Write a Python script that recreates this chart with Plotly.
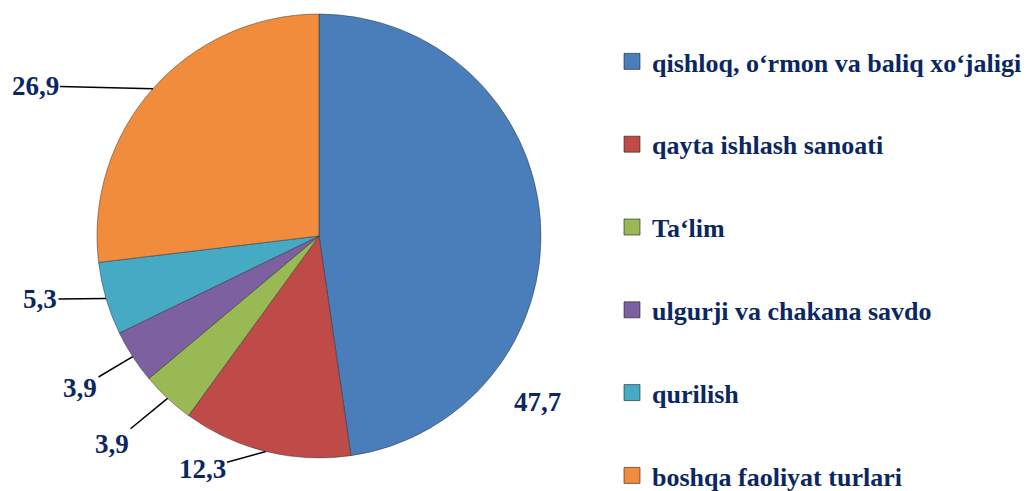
import math
import plotly.graph_objects as go

categories = ["qishloq, o‘rmon va baliq xo‘jaligi", "qayta ishlash sanoati", "Ta‘lim",
              "ulgurji va chakana savdo", "qurilish", "boshqa faoliyat turlari"]
values = [47.7, 12.3, 3.9, 3.9, 5.3, 26.9]
value_labels = ["47,7", "12,3", "3,9", "3,9", "5,3", "26,9"]
colors = ["#4A7EBB", "#BE4B48", "#98B954", "#7D60A0", "#46AAC5", "#F08C3C"]

W, H = 1035, 491
OFF = 8  # page body margin: figure origin sits at (8, 8) on screen
CX, CY, R = 319 - OFF, 236 - OFF, 222
TXT = "#0B2763"
FONT = "Times New Roman, Liberation Serif, serif"

# label text centres (screen px); leader line drawn to slice edge when flag True
label_pos = [(537, 402), (202, 469), (112, 444), (80, 388), (40, 299), (35, 86)]
leader = [False, True, True, True, True, True]

fig = go.Figure()
fig.add_trace(go.Pie(
    labels=categories, values=values, sort=False, direction="clockwise", rotation=0,
    marker=dict(colors=colors, line=dict(color="rgba(40,40,40,0.45)", width=1)),
    textinfo="none", hoverinfo="label+value", showlegend=False,
    domain=dict(x=[(CX - R) / W, (CX + R) / W], y=[(H - CY - R) / H, (H - CY + R) / H]),
))

for i, (cat, col) in enumerate(zip(categories, colors)):
    fig.add_trace(go.Scatter(
        x=[None], y=[None], mode="markers", name=cat, legendgroup=str(i),
        marker=dict(symbol="square", size=16, color=col, line=dict(color="rgba(30,30,30,0.6)", width=1)),
    ))

annotations = []
cum = 0.0
for v, lab, (tx, ty), has_line in zip(values, value_labels, label_pos, leader):
    mid = (cum + v / 2) / sum(values) * 2 * math.pi
    cum += v
    ex = CX + R * math.sin(mid)
    ey = CY - R * math.cos(mid)
    tx, ty = tx - OFF, ty - OFF
    if not has_line:
        annotations.append(dict(x=tx / W, y=1 - ty / H, xref="paper", yref="paper",
                                xanchor="center", yanchor="middle",
                                text=f"<b>{lab}</b>", showarrow=False,
                                font=dict(family=FONT, size=27, color=TXT)))
    else:
        annotations.append(dict(x=ex / W, y=1 - ey / H, xref="paper", yref="paper",
                                text=f"<b>{lab}</b>", showarrow=True, arrowhead=0, arrowwidth=1.5,
                                arrowcolor="black", ax=tx - ex, ay=ty - ey, standoff=0,
                                font=dict(family=FONT, size=27, color=TXT)))

fig.update_layout(
    width=W, height=H, margin=dict(l=0, r=0, t=0, b=0),
    paper_bgcolor="white", plot_bgcolor="white",
    xaxis=dict(visible=False), yaxis=dict(visible=False),
    annotations=annotations,
    legend=dict(x=604 / W, y=1 - 51 / H, xanchor="left", yanchor="top",
                font=dict(family=FONT, size=26, color=TXT, weight="bold"),
                tracegroupgap=46, itemwidth=30, bgcolor="rgba(0,0,0,0)"),
)

fig.write_html("out.html")
